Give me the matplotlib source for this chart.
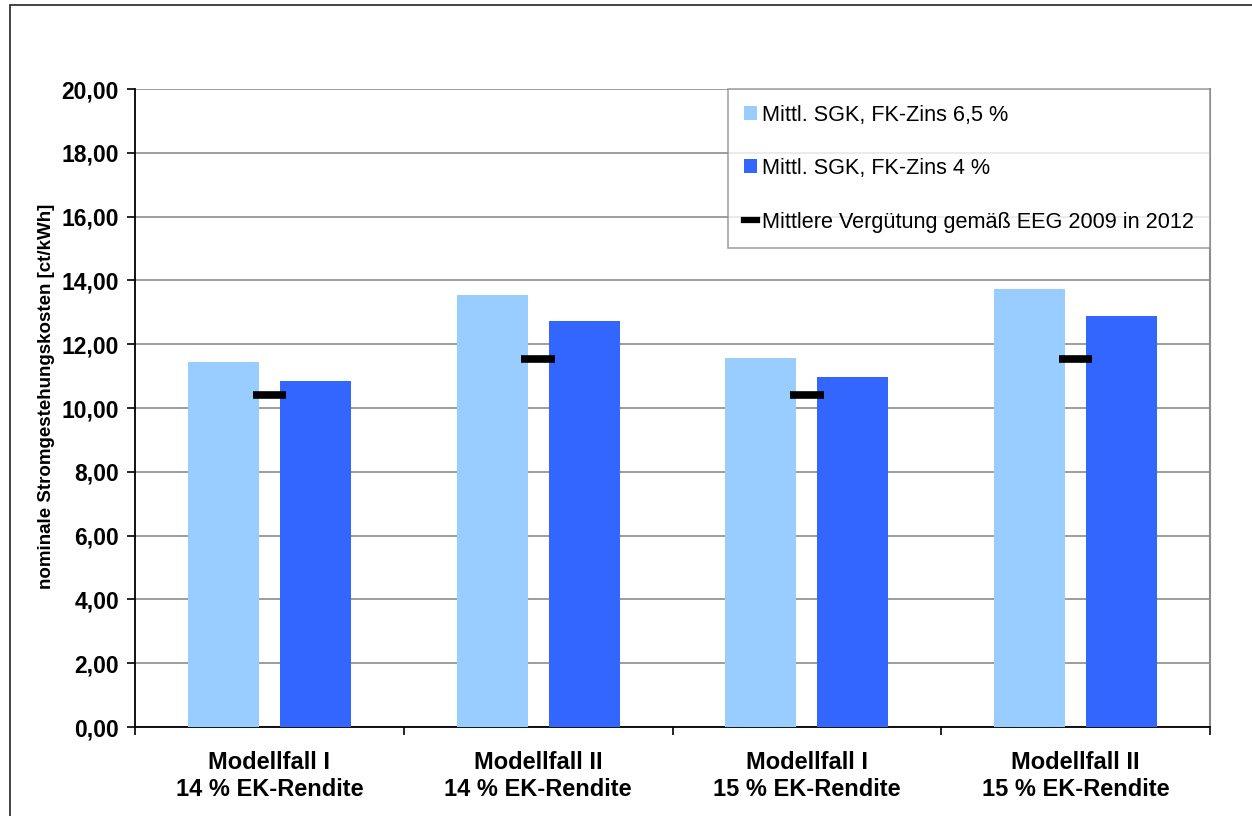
import matplotlib
matplotlib.use("Agg")
import matplotlib.pyplot as plt
from matplotlib.lines import Line2D
from matplotlib.patches import Patch, Rectangle
from matplotlib.ticker import FixedLocator, FixedFormatter
import numpy as np

plt.rcParams['font.family'] = ['Liberation Sans', 'DejaVu Sans']

# ---- data ----
categories = ["Modellfall I\n14 % EK-Rendite", "Modellfall II\n14 % EK-Rendite",
              "Modellfall I\n15 % EK-Rendite", "Modellfall II\n15 % EK-Rendite"]
sgk_65 = [11.44, 13.54, 11.56, 13.73]      # Mittl. SGK, FK-Zins 6,5 %
sgk_4 = [10.84, 12.72, 10.96, 12.88]       # Mittl. SGK, FK-Zins 4 %
eeg_2012 = [10.40, 11.55, 10.40, 11.55]    # Mittlere Vergütung gemäß EEG 2009 in 2012
series_labels = ["Mittl. SGK, FK-Zins 6,5 %", "Mittl. SGK, FK-Zins 4 %",
                 "Mittlere Vergütung gemäß EEG 2009 in 2012"]
ytick_values = [0, 2, 4, 6, 8, 10, 12, 14, 16, 18, 20]
ytick_labels = ["0,00", "2,00", "4,00", "6,00", "8,00", "10,00", "12,00",
                "14,00", "16,00", "18,00", "20,00"]
ylabel = "nominale Stromgestehungskosten [ct/kWh]"

light = "#99CCFF"
dark = "#3366FF"

W, H = 1252, 816
fig = plt.figure(figsize=(W / 100, H / 100), dpi=100)
fig.patch.set_facecolor("white")

# outer frame (left and top visible)
fig.add_artist(Rectangle((10 / W, -0.05), 1.1, 1 - 5 / H + 0.05, transform=fig.transFigure,
                         fill=False, edgecolor="#222222", lw=1.2))

ax = fig.add_axes([135 / W, 1 - 727 / H, (1210 - 135) / W, (727 - 89) / H])

x = np.arange(len(categories))
bw = 0.264
off = 0.171
ax.bar(x - off, sgk_65, width=bw, color=light, zorder=3)
ax.bar(x + off, sgk_4, width=bw, color=dark, zorder=3)
ax.hlines(eeg_2012, x - 0.062, x + 0.062, colors="black", lw=5.5, zorder=4)

ax.set_xlim(-0.5, len(categories) - 0.5)
ax.set_ylim(0, 20)

# y axis
ax.yaxis.set_major_locator(FixedLocator(ytick_values))
ax.yaxis.set_major_formatter(FixedFormatter(ytick_labels))
ax.tick_params(axis="y", direction="out", length=6, width=1.2, pad=5.5,
               labelsize=16.5, color="black")
for lab in ax.get_yticklabels():
    lab.set_fontweight("bold")
ax.yaxis.grid(True, color="#8c8c8c", lw=1.2, zorder=0)

# x axis: boundary ticks, labels at centres
ax.set_xticks(np.arange(len(categories) + 1) - 0.5)
ax.set_xticklabels([])
ax.tick_params(axis="x", which="major", direction="out", length=6, width=1.2)
ax.set_xticks(x, minor=True)
ax.set_xticklabels(categories, minor=True, fontsize=17, fontweight="bold",
                   linespacing=1.22)
ax.tick_params(axis="x", which="minor", length=0, pad=17)

for s in ["left", "bottom"]:
    ax.spines[s].set_color("black")
    ax.spines[s].set_linewidth(1.3)
ax.spines["right"].set_color("#8c8c8c")
ax.spines["right"].set_linewidth(1.5)
ax.spines["top"].set_visible(False)
ax.set_axisbelow(True)

ax.set_ylabel(ylabel, fontsize=13.5, fontweight="bold")
ax.yaxis.set_label_coords(-80 / (1210 - 135), 0.518)

handles = [Patch(facecolor=light, edgecolor="none"),
           Patch(facecolor=dark, edgecolor="none"),
           Line2D([0], [0], color="black", lw=4.5)]
leg = ax.legend(handles, series_labels, loc="upper right", bbox_to_anchor=(1, 1),
                borderaxespad=0, fontsize=15.6, frameon=True, fancybox=False,
                edgecolor="#8c8c8c", handlelength=0.62, handleheight=0.62,
                handletextpad=0.25, labelspacing=1.5, borderpad=0.72)
leg.get_frame().set_linewidth(1.2)
leg.set_zorder(10)

fig.savefig("out.png", dpi=100, facecolor="white")
